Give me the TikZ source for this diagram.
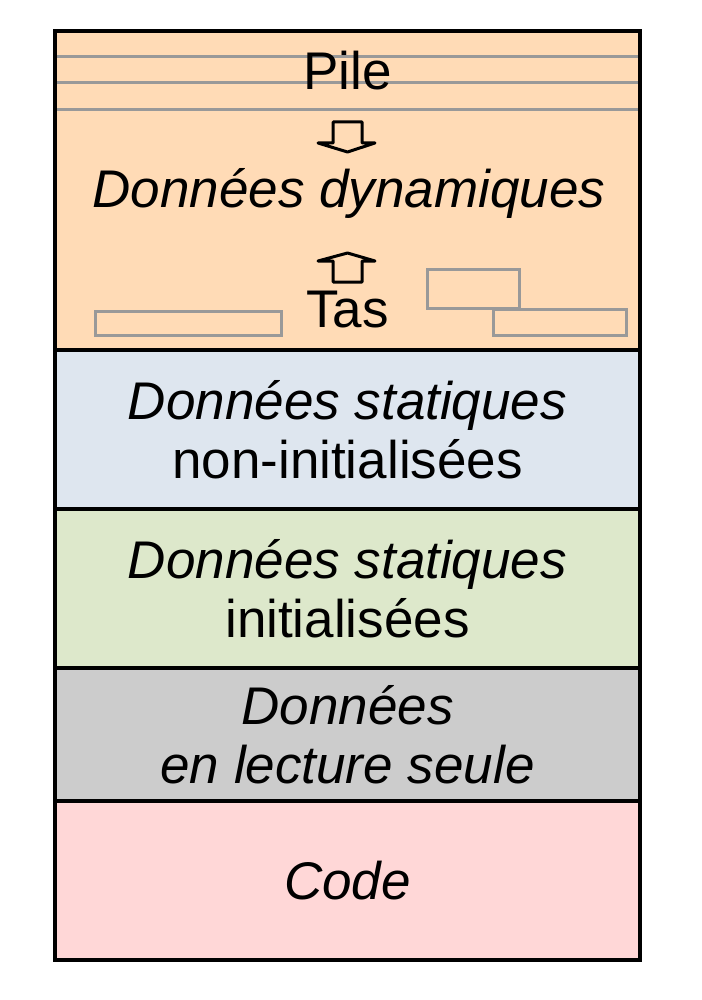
\documentclass[tikz,border=0pt]{standalone}
\usepackage{fontspec}
\setmainfont{Liberation Sans}
\usetikzlibrary{positioning}
\definecolor{dynfill}{HTML}{FFDBB6}
\definecolor{bssfill}{HTML}{DEE6EF}
\definecolor{datafill}{HTML}{DDE8CB}
\definecolor{rofill}{HTML}{CCCCCC}
\definecolor{codefill}{HTML}{FFD7D7}
\definecolor{blockgray}{HTML}{999999}

\begin{document}
\begin{tikzpicture}[x=1pt, y=-1pt, node distance=0pt,
    every node/.style={font=\fontsize{53}{59}\selectfont},
    segment/.style={rectangle, draw, line width=4pt, outer sep=0pt, minimum width=585pt, align=center},
    stackline/.style={draw=blockgray, line width=3pt},
    heapblock/.style={draw=blockgray, line width=3pt},
    growarrow/.style={draw, line width=3pt, line join=round}]
        \useasboundingbox (0,0) rectangle (701,1000);
        % Memory segments
        \node[segment, fill=dynfill, minimum height=319pt] (dyn) at (347.5,190.5) {};
        \node[segment, fill=bssfill, minimum height=159pt, below=of dyn] (bss) {{\itshape Données statiques}\\non-initialisées};
        \node[segment, fill=datafill, minimum height=159pt, below=of bss] (data) {{\itshape Données statiques}\\initialisées};
        \node[segment, fill=rofill, minimum height=133pt, below=of data] (rodata) {\itshape Données\\\itshape en lecture seule};
        \node[segment, fill=codefill, minimum height=159pt, below=of rodata] (code) {\itshape Code};
        % Stack frames
        \foreach \y in {57,83,110}
            \draw[stackline] ([xshift=2pt]dyn.west |- 0,\y) -- ([xshift=-2pt]dyn.east |- 0,\y);
        % Heap blocks
        \draw[heapblock] (95,311) rectangle (281,335);
        \draw[heapblock] (427,269) rectangle (519,308);
        \draw[heapblock] (493,309) rectangle (626,335);
        % Labels
        \node[anchor=base] (pile) at (347.5,90) {Pile};
        \node[anchor=base] (dynlabel) at (349,208) {\itshape Données dynamiques};
        \node[anchor=base] (tas) at (347.5,327) {Tas};
        % Growth arrows
        \draw[growarrow] (333,122) -- (362,122) -- (362,143) -- (375,143) -- (347.5,152) -- (318,143) -- (333,143) -- cycle;
        \draw[growarrow] (347.5,253) -- (375,261) -- (362,261) -- (362,282) -- (333,282) -- (333,261) -- (318,261) -- cycle;
    \end{tikzpicture}
\end{document}
